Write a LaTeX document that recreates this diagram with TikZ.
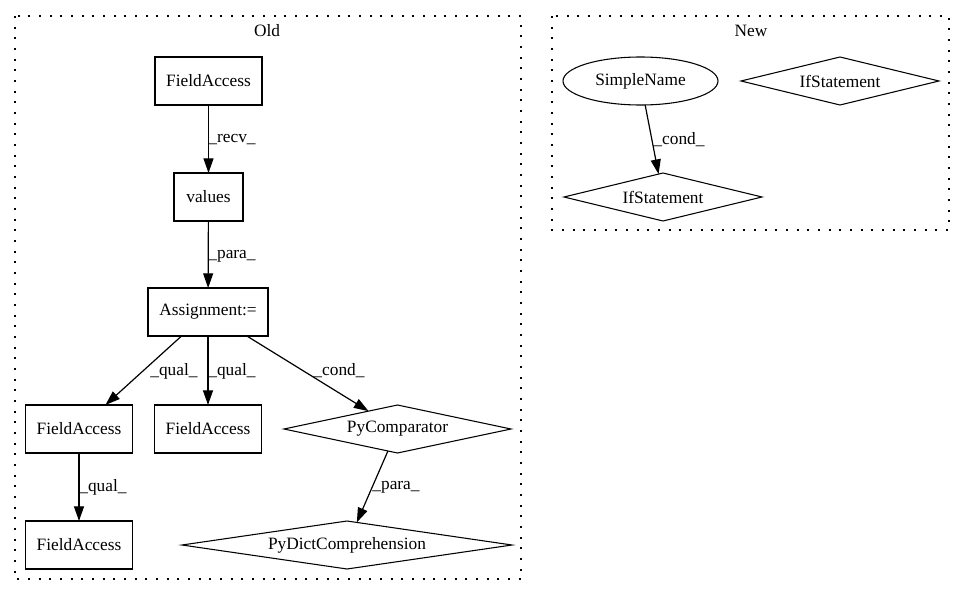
\documentclass[tikz,border=0pt]{standalone}
\usepackage{fontspec}
\setmainfont{Liberation Serif}
\usetikzlibrary{arrows.meta,shapes.geometric}
\begin{document}
\begin{tikzpicture}[x=0.75pt,y=-0.75pt,
  font=\fontsize{13pt}{15pt}\selectfont,
  every node/.style={inner sep=0pt, outer sep=0pt},
  box/.style={draw, line width=0.9pt, rectangle, minimum height=36pt},
  dia/.style={draw, line width=0.8pt, diamond, minimum height=36pt},
  oval/.style={draw, line width=0.8pt, ellipse, minimum width=116.25pt, minimum height=36pt},
  edge/.style={draw, line width=0.9pt, -{Triangle[length=11pt,width=7.5pt]}},
  lbl/.style={},
  cluster/.style={draw, line width=1pt, dash pattern=on 1.5pt off 6.5pt}]
\useasboundingbox (0,0) rectangle (965,596);

% clusters
\draw[cluster] (15,16) rectangle (521,579);
\draw[cluster] (552,16) rectangle (949,230);
\node (toldt) at (267,31) {Old};
\node (tnew) at (751,31) {New};

% Old graph
\node[box, minimum width=80.25pt] (fa1) at (208.5,81) {FieldAccess};
\node[box, minimum width=51.75pt] (vals) at (208.5,197) {values};
\node[box, minimum width=90pt] (asg) at (208,312) {Assignment:=};
\node[box, minimum width=80.25pt] (fa2) at (79,429) {FieldAccess};
\node[box, minimum width=80.25pt] (fa3) at (208,429) {FieldAccess};
\node[dia, minimum width=170.25pt, shape aspect=4.73] (cmp) at (397.5,429) {PyComparator};
\node[box, minimum width=80.25pt] (fa4) at (79,545) {FieldAccess};
\node[dia, minimum width=247.5pt, shape aspect=6.9] (dict) at (347,545) {PyDictComprehension};

\draw[edge] (fa1) -- (vals);
\draw[edge] (vals) -- (asg);
\draw[edge] (asg) -- (fa2);
\draw[edge] (asg) -- (fa3);
\draw[edge] (asg) -- (cmp);
\draw[edge] (fa2) -- (fa4);
\draw[edge] (cmp) -- (dict);

\node[lbl] (l1) at (232,140) {\_recv\_};
\node[lbl] (l2) at (232,256) {\_para\_};
\node[lbl] (l3) at (174,371) {\_qual\_};
\node[lbl] (l4) at (232,371) {\_qual\_};
\node[lbl] (l5) at (339,371) {\_cond\_};
\node[lbl] (l6) at (103,487) {\_qual\_};
\node[lbl] (l7) at (396,487) {\_para\_};

% New graph
\node[oval] (sn) at (640.5,81) {SimpleName};
\node[dia, minimum width=148.5pt, shape aspect=4.125] (if1) at (840,81) {IfStatement};
\node[dia, minimum width=148.5pt, shape aspect=4.125] (if2) at (663,197) {IfStatement};
\draw[edge] (sn) -- (if2);
\node[lbl] (l8) at (679,140) {\_cond\_};
\end{tikzpicture}
\end{document}
